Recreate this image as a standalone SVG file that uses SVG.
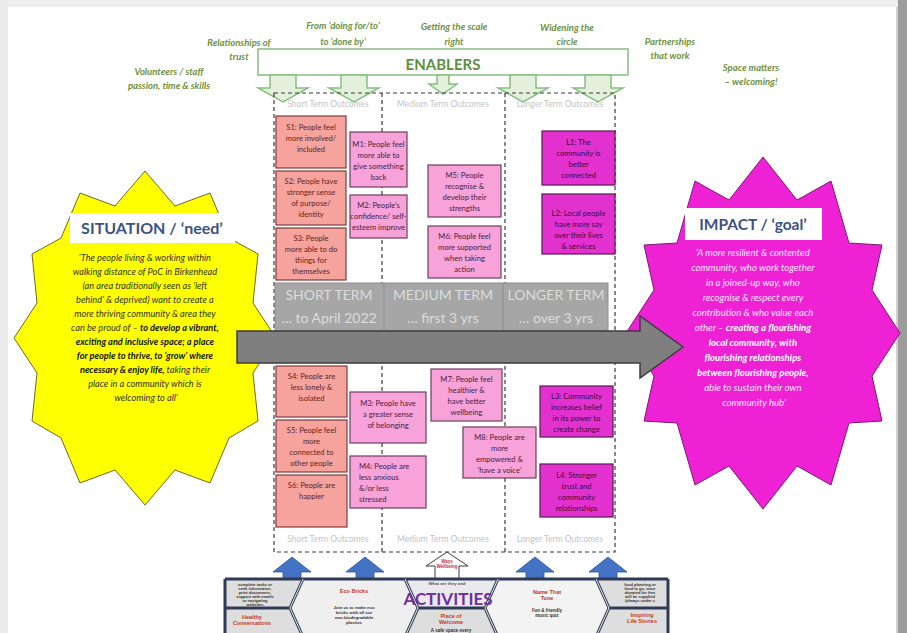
<svg xmlns="http://www.w3.org/2000/svg" width="907" height="633" viewBox="0 0 907 633">
<defs>
<style>
.f{font-family:Lato,"Open Sans","Liberation Sans",sans-serif}
.en{font-family:Lato,"Open Sans",sans-serif;font-style:italic;font-weight:bold;font-size:9.5px;fill:#6e9140;text-anchor:middle}
.colh{font-family:Lato,"Open Sans",sans-serif;font-size:8.5px;fill:#c4c4c4;text-anchor:middle}
.bx text{font-family:Lato,"Open Sans",sans-serif;font-size:7.6px;text-anchor:middle}
.s rect{fill:#f6a39d;stroke:#7d3b3b;stroke-width:1.2}
.s text{fill:#5b2323}
.m rect{fill:#f7a3d9;stroke:#6f3d62;stroke-width:1.2}
.m text{fill:#4a2040}
.l rect{fill:#e331cf;stroke:#5e1756;stroke-width:1.2}
.l text{fill:#3a0c36}
.garrow{fill:#e3f0db;stroke:#86bf80;stroke-width:1.5}
.barrow{fill:#4472c4;stroke:#2f5597;stroke-width:0.8}
.band{font-family:Lato,"Open Sans",sans-serif;font-size:14px;fill:#dcdcdc;text-anchor:middle}
.dash{fill:none;stroke:#3a3a3a;stroke-width:1.2;stroke-dasharray:4 3}
.hex{fill:none;stroke:#2f3b55;stroke-width:3}
.hexi{fill:none;stroke:#e8e8ee;stroke-width:1}
.act{font-family:"Liberation Sans",Arial,sans-serif;font-weight:bold;text-anchor:middle}
</style>
</defs>

<!-- page background -->
<rect x="0" y="0" width="907" height="633" fill="#ffffff"/>
<rect x="0" y="0" width="907" height="7" fill="#eeeeee"/>
<rect x="0" y="0" width="8" height="633" fill="#ebebeb"/>
<rect x="898" y="0" width="9" height="633" fill="#9c9c9c"/>
<rect x="896" y="7" width="2" height="626" fill="#d0d0d0"/>

<!-- SITUATION star -->
<g id="situation">
<polygon points="145,171 175,206 210,193 229,238 258,254 253,303 276,338 253,373 258,421 229,438 210,483 175,470 145,505 115,470 80,483 61,438 32,421 37,373 14,338 37,303 32,254 61,238 80,193 115,206" fill="#ffff00" stroke="#6b6b2a" stroke-width="1"/>
<rect x="70" y="213" width="165" height="30" fill="#ffffff"/>
<text class="f" x="152" y="234" font-size="16" font-weight="bold" fill="#3b5380" text-anchor="middle">SITUATION / ‘need’</text>
<text class="f" font-size="9.2" font-style="italic" fill="#333333" text-anchor="middle">
<tspan x="146" y="261">‘The people living &amp; working within</tspan>
<tspan x="146" y="275">walking distance of PoC in Birkenhead</tspan>
<tspan x="146" y="289">(an area traditionally seen as ‘left</tspan>
<tspan x="146" y="303">behind’ &amp; deprived) want to create a</tspan>
<tspan x="146" y="317">more thriving community &amp; area they</tspan>
<tspan x="146" y="331">can be proud of – <tspan font-weight="bold" fill="#111">to develop a vibrant,</tspan></tspan>
<tspan x="146" y="345" font-weight="bold" fill="#111">exciting and inclusive space; a place</tspan>
<tspan x="146" y="359" font-weight="bold" fill="#111">for people to thrive, to ‘grow’ where</tspan>
<tspan x="146" y="373"><tspan font-weight="bold" fill="#111">necessary &amp; enjoy life,</tspan> taking their</tspan>
<tspan x="146" y="387">place in a community which is</tspan>
<tspan x="146" y="401">welcoming to all’</tspan>
</text>
</g>

<!-- IMPACT star -->
<g id="impact">
<polygon points="763,157 797,200 831,181 849,243 882,245 872,290 900,333 872,376 882,421 849,423 831,485 797,466 763,509 729,466 695,485 677,423 644,421 654,376 626,333 654,290 644,245 677,243 695,181 729,200" fill="#ee22d4" stroke="#7a1a70" stroke-width="1"/>
<rect x="685" y="208" width="137" height="32" fill="#ffffff"/>
<text class="f" x="753" y="230" font-size="15.5" font-weight="bold" fill="#3b5380" text-anchor="middle">IMPACT / ‘goal’</text>
<text class="f" font-size="9.6" font-style="italic" fill="#fbe6f7" text-anchor="middle">
<tspan x="754" y="256">‘A more resilient &amp; contented</tspan>
<tspan x="754" y="271">community, who work together</tspan>
<tspan x="754" y="286">in a joined-up way, who</tspan>
<tspan x="754" y="301">recognise &amp; respect every</tspan>
<tspan x="754" y="316">contribution &amp; who value each</tspan>
<tspan x="754" y="331">other – <tspan font-weight="bold" fill="#ffffff">creating a flourishing</tspan></tspan>
<tspan x="754" y="346" font-weight="bold" fill="#ffffff">local community, with</tspan>
<tspan x="754" y="361" font-weight="bold" fill="#ffffff">flourishing relationships</tspan>
<tspan x="754" y="376" font-weight="bold" fill="#ffffff">between flourishing people,</tspan>
<tspan x="754" y="391">able to sustain their own</tspan>
<tspan x="754" y="406">community hub’</tspan>
</text>
</g>

<!-- ENABLERS -->
<g id="enablers">
<rect x="258" y="49" width="370" height="26" fill="#ffffff" stroke="#86bf80" stroke-width="1.5"/>
<text class="f" x="443" y="70" font-size="15" font-weight="bold" fill="#5e8f3e" text-anchor="middle">ENABLERS</text>
<path class="garrow" d="M270,75 H296 V88 H308 L283,102 L258,88 H270 Z"/>
<path class="garrow" d="M341,75 H367 V88 H379 L354,102 L329,88 H341 Z"/>
<path class="garrow" d="M437,75 H449 V84 H457 L443,94 L429,84 H437 Z"/>
<path class="garrow" d="M510,75 H536 V88 H548 L523,102 L498,88 H510 Z"/>
<path class="garrow" d="M585,75 H611 V88 H623 L598,102 L573,88 H585 Z"/>
</g>
<g id="enabler-labels">
<text class="en"><tspan x="239" y="46">Relationships of</tspan><tspan x="239" y="60">trust</tspan></text>
<text class="en"><tspan x="343" y="29">From ‘doing for/to’</tspan><tspan x="343" y="45">to ‘done by’</tspan></text>
<text class="en"><tspan x="454" y="30">Getting the scale</tspan><tspan x="454" y="45">right</tspan></text>
<text class="en"><tspan x="567" y="31">Widening the</tspan><tspan x="567" y="45">circle</tspan></text>
<text class="en"><tspan x="670" y="45">Partnerships</tspan><tspan x="670" y="59">that work</tspan></text>
<text class="en"><tspan x="751" y="71">Space matters</tspan><tspan x="751" y="85">– welcoming!</tspan></text>
<text class="en"><tspan x="169" y="75">Volunteers / staff</tspan><tspan x="169" y="89">passion, time &amp; skills</tspan></text>
</g>

<!-- outcomes frame -->
<g id="outcomes-frame">
<rect class="dash" x="274" y="93" width="341" height="459"/>
<line class="dash" x1="382" y1="93" x2="382" y2="552"/>
<line class="dash" x1="505" y1="93" x2="505" y2="552"/>
<text class="colh" x="328" y="107">Short Term Outcomes</text>
<text class="colh" x="443" y="107">Medium Term Outcomes</text>
<text class="colh" x="560" y="107">Longer Term Outcomes</text>
<text class="colh" x="328" y="542">Short Term Outcomes</text>
<text class="colh" x="443" y="542">Medium Term Outcomes</text>
<text class="colh" x="560" y="542">Longer Term Outcomes</text>
</g>

<!-- time band -->
<g id="time-band">
<rect x="275" y="283" width="333" height="50" fill="#a6a6a6" stroke="#8c8c8c" stroke-width="1"/>
<line x1="384" y1="283" x2="384" y2="333" stroke="#8c8c8c" stroke-width="1"/>
<line x1="503" y1="283" x2="503" y2="333" stroke="#8c8c8c" stroke-width="1"/>
<text class="band"><tspan x="329" y="300">SHORT TERM</tspan><tspan x="329" y="323">… to April 2022</tspan></text>
<text class="band"><tspan x="443" y="300">MEDIUM TERM</tspan><tspan x="443" y="323">… first 3 yrs</tspan></text>
<text class="band"><tspan x="556" y="300">LONGER TERM</tspan><tspan x="556" y="323">… over 3 yrs</tspan></text>
</g>

<!-- outcome boxes -->
<g class="bx s" id="S1"><rect x="276" y="116" width="70" height="52"/><text><tspan x="311" y="130">S1: People feel</tspan><tspan x="311" y="141">more involved/</tspan><tspan x="311" y="152">included</tspan></text></g>
<g class="bx s" id="S2"><rect x="276" y="171" width="70" height="54"/><text><tspan x="311" y="184">S2: People have</tspan><tspan x="311" y="195">stronger sense</tspan><tspan x="311" y="206">of purpose/</tspan><tspan x="311" y="217">identity</tspan></text></g>
<g class="bx s" id="S3"><rect x="276" y="228" width="70" height="52"/><text><tspan x="311" y="241">S3: People</tspan><tspan x="311" y="252">more able to do</tspan><tspan x="311" y="263">things for</tspan><tspan x="311" y="274">themselves</tspan></text></g>
<g class="bx m" id="M1"><rect x="350" y="132" width="57" height="55"/><text><tspan x="378.5" y="147">M1: People feel</tspan><tspan x="378.5" y="158">more able to</tspan><tspan x="378.5" y="169">give something</tspan><tspan x="378.5" y="180">back</tspan></text></g>
<g class="bx m" id="M2"><rect x="350" y="195" width="57" height="43"/><text><tspan x="378.5" y="208">M2: People’s</tspan><tspan x="378.5" y="219">confidence/ self-</tspan><tspan x="378.5" y="230">esteem improve</tspan></text></g>
<g class="bx m" id="M5"><rect x="428" y="165" width="73" height="52"/><text><tspan x="464.5" y="178">M5: People</tspan><tspan x="464.5" y="189">recognise &amp;</tspan><tspan x="464.5" y="200">develop their</tspan><tspan x="464.5" y="211">strengths</tspan></text></g>
<g class="bx m" id="M6"><rect x="428" y="226" width="73" height="52"/><text><tspan x="464.5" y="239">M6: People feel</tspan><tspan x="464.5" y="250">more supported</tspan><tspan x="464.5" y="261">when taking</tspan><tspan x="464.5" y="272">action</tspan></text></g>
<g class="bx l" id="L1"><rect x="542" y="131" width="73" height="54"/><text><tspan x="578.5" y="145">L1: The</tspan><tspan x="578.5" y="156">community is</tspan><tspan x="578.5" y="167">better</tspan><tspan x="578.5" y="178">connected</tspan></text></g>
<g class="bx l" id="L2"><rect x="542" y="194" width="73" height="60"/><text><tspan x="578.5" y="216">L2: Local people</tspan><tspan x="578.5" y="227">have more say</tspan><tspan x="578.5" y="238">over their lives</tspan><tspan x="578.5" y="249">&amp; services</tspan></text></g>

<g class="bx s" id="S4"><rect x="276" y="366" width="71" height="51"/><text><tspan x="311.5" y="379">S4: People are</tspan><tspan x="311.5" y="390">less lonely &amp;</tspan><tspan x="311.5" y="401">isolated</tspan></text></g>
<g class="bx s" id="S5"><rect x="276" y="420" width="71" height="52"/><text><tspan x="311.5" y="433">S5: People feel</tspan><tspan x="311.5" y="444">more</tspan><tspan x="311.5" y="455">connected to</tspan><tspan x="311.5" y="466">other people</tspan></text></g>
<g class="bx s" id="S6"><rect x="276" y="475" width="71" height="52"/><text><tspan x="311.5" y="488">S6: People are</tspan><tspan x="311.5" y="499">happier</tspan></text></g>
<g class="bx m" id="M3"><rect x="350" y="392" width="76" height="51"/><text><tspan x="388" y="406">M3: People have</tspan><tspan x="388" y="417">a greater sense</tspan><tspan x="388" y="428">of belonging</tspan></text></g>
<g class="bx m" id="M4"><rect x="350" y="456" width="76" height="52"/><text style="text-anchor:start"><tspan x="359" y="469">M4: People are</tspan><tspan x="359" y="480">less anxious</tspan><tspan x="359" y="491">&amp;/or less</tspan><tspan x="359" y="502">stressed</tspan></text></g>
<g class="bx m" id="M7"><rect x="431" y="369" width="71" height="52"/><text><tspan x="466.5" y="382">M7: People feel</tspan><tspan x="466.5" y="393">healthier &amp;</tspan><tspan x="466.5" y="404">have better</tspan><tspan x="466.5" y="415">wellbeing</tspan></text></g>
<g class="bx m" id="M8"><rect x="463" y="427" width="73" height="51"/><text><tspan x="499.5" y="440">M8: People are</tspan><tspan x="499.5" y="451">more</tspan><tspan x="499.5" y="462">empowered &amp;</tspan><tspan x="499.5" y="473">‘have a voice’</tspan></text></g>
<g class="bx l" id="L3"><rect x="540" y="386" width="73" height="51"/><text><tspan x="576.5" y="399">L3: Community</tspan><tspan x="576.5" y="410">increases belief</tspan><tspan x="576.5" y="421">in its power to</tspan><tspan x="576.5" y="432">create change</tspan></text></g>
<g class="bx l" id="L4"><rect x="540" y="464" width="73" height="53"/><text><tspan x="576.5" y="478">L4: Stronger</tspan><tspan x="576.5" y="489">trust and</tspan><tspan x="576.5" y="500">community</tspan><tspan x="576.5" y="511">relationships</tspan></text></g>

<!-- big arrow and activity arrows -->
<g id="connectors">
<path d="M237,331 H640 V316 L683,347 L640,378 V363 H237 Z" fill="#7f7f7f" stroke="#3d3d3d" stroke-width="1.5"/>
<path class="barrow" d="M283,580 V572 H273 L292,557 L311,572 H301 V580 Z"/>
<path class="barrow" d="M356,580 V572 H346 L365,557 L384,572 H374 V580 Z"/>
<path class="barrow" d="M526,580 V572 H516 L535,557 L554,572 H544 V580 Z"/>
<path class="barrow" d="M599,580 V572 H589 L608,557 L627,572 H617 V580 Z"/>
<path d="M435,580 V566 H426 L447,552 L468,566 H459 V580 Z" fill="#ffffff" stroke="#3a3a4a" stroke-width="1"/>
</g>

<!-- activities strip -->
<g id="activities">
<rect x="225" y="579" width="443" height="54" fill="#dedede"/>
<polygon points="303,580 405,580 418,608 405,636 303,636 290,608" fill="#efefef"/>
<polygon points="498,580 596,580 609,608 596,636 498,636 485,608" fill="#f3f3f3"/>
<polygon points="418,608 485,608 498,580 405,580" fill="#e9e9ee"/>
<path class="hex" d="M225,579 H668 M225,579 V633 M668,579 V633 M225,608 H290 M303,579 L290,608 L303,637 M405,579 L418,608 L405,637 M418,608 H485 M498,579 L485,608 L498,637 M596,579 L609,608 L596,637 M609,608 H668"/>
<path class="hexi" d="M303,579 L290,608 L303,637 M405,579 L418,608 L405,637 M498,579 L485,608 L498,637 M596,579 L609,608 L596,637"/>
<text class="act" x="447" y="585" font-size="4.3" fill="#555">What are they and</text>
<text class="act" x="448" y="605" font-size="17" fill="#7030a0" style="font-family:Lato,'Open Sans',sans-serif">ACTIVITIES</text>
<text class="act" font-size="4.5" fill="#c0304a"><tspan x="447" y="563">Ways</tspan><tspan x="447" y="568">Wellbeing</tspan></text>
<text class="act" x="354" y="593" font-size="5.5" fill="#c0392b">Eco Bricks</text>
<text class="act" font-size="4.3" fill="#333"><tspan x="354" y="609">Join us to make eco</tspan><tspan x="354" y="614">bricks with all our</tspan><tspan x="354" y="619">non-biodegradable</tspan><tspan x="354" y="624">plastics</tspan></text>
<text class="act" font-size="5.5" fill="#c0392b"><tspan x="547" y="594">Name That</tspan><tspan x="547" y="600">Tune</tspan></text>
<text class="act" font-size="4.5" fill="#333"><tspan x="547" y="612">Fun &amp; friendly</tspan><tspan x="547" y="617">music quiz</tspan></text>
<text class="act" font-size="5.5" fill="#c0392b"><tspan x="451" y="618">Place of</tspan><tspan x="451" y="624">Welcome</tspan></text>
<text class="act" x="451" y="632" font-size="4.5" fill="#333">A safe space every</text>
<text class="act" font-size="5.5" fill="#c0392b"><tspan x="252" y="619">Healthy</tspan><tspan x="252" y="625">Conversations</tspan></text>
<text class="act" font-size="5.5" fill="#c0392b"><tspan x="642" y="617">Inspiring</tspan><tspan x="642" y="623">Life Stories</tspan></text>
<text class="act" font-size="4" fill="#333"><tspan x="255" y="586">complete tasks or</tspan><tspan x="255" y="590">seek information,</tspan><tspan x="255" y="594">print documents,</tspan><tspan x="255" y="598">support with emails</tspan><tspan x="255" y="602">or navigating</tspan><tspan x="255" y="606">websites</tspan></text>
<text class="act" font-size="4" fill="#333"><tspan x="640" y="586">food planning or</tspan><tspan x="640" y="590">food to go, once</tspan><tspan x="640" y="594">donated for free</tspan><tspan x="640" y="598">will be supplied</tspan><tspan x="640" y="602">(always under c</tspan></text>
</g>
</svg>
